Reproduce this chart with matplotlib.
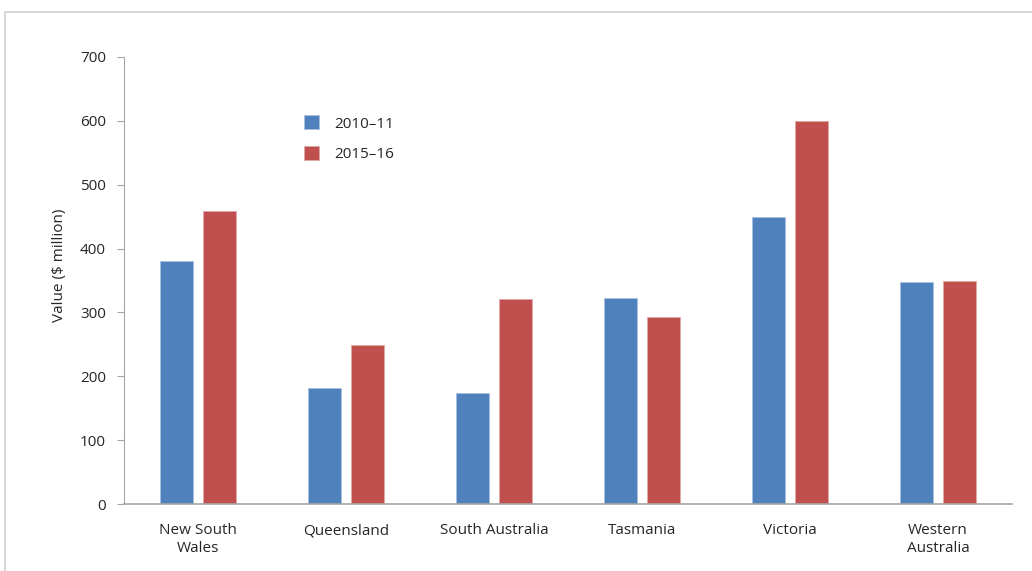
import numpy as np
import matplotlib
matplotlib.use("Agg")
import matplotlib.pyplot as plt
from matplotlib.patches import Rectangle

plt.rcParams['font.family'] = ['Open Sans', 'DejaVu Sans']

states = ['New South\nWales', 'Queensland', 'South Australia', 'Tasmania',
          'Victoria', 'Western\nAustralia']
val_2010 = [380, 182, 174, 323, 449, 348]
val_2015 = [459, 249, 321, 293, 600, 350]
series_names = ['2010\u201311', '2015\u201316']

blue = '#4F81BD'
red = '#C0504D'
txt = '#262626'
axis_grey = '#A6A6A6'

fig = plt.figure(figsize=(10.32, 5.71), dpi=100)
# light frame around the chart area
fig.patches.append(Rectangle((5/1032, -0.05), 1.2, 1 - 12/571 + 0.05,
                             transform=fig.transFigure, fill=False,
                             edgecolor='#D0D0D0', linewidth=1.2))

ax = fig.add_axes([124/1032, 1 - 504/571, 888/1032, 447/571])

x = np.arange(len(states))
w = 0.223
off = 0.142
ax.bar(x - off, val_2010, w, color=blue, edgecolor='#A9C0DF', linewidth=0.6,
       label=series_names[0])
ax.bar(x + off, val_2015, w, color=red, edgecolor='#DFA8A6', linewidth=0.6,
       label=series_names[1])

ax.set_xlim(-0.5, len(states) - 0.5)
ax.set_ylim(0, 700)
ax.set_yticks(np.arange(0, 701, 100))
ax.set_xticks(x)
ax.set_xticklabels(states, fontsize=11, color=txt)
ax.tick_params(axis='x', length=0, pad=14)
ax.tick_params(axis='y', length=5, color=axis_grey, labelsize=11,
               labelcolor=txt, pad=8)

for s in ['top', 'right']:
    ax.spines[s].set_visible(False)
ax.spines['left'].set_color(axis_grey)
ax.spines['bottom'].set_color(axis_grey)
ax.spines['bottom'].set_linewidth(1.2)

ax.set_ylabel('Value ($ million)', fontsize=11, color=txt)
ax.yaxis.set_label_coords(-0.064, 0.535)

ax.legend(loc='upper left', bbox_to_anchor=(0.187, 0.9), frameon=False,
          fontsize=11, handlelength=1.0, handleheight=1.0,
          handletextpad=1.0, labelspacing=0.95, labelcolor=txt)

fig.savefig('out.png', dpi=100)
